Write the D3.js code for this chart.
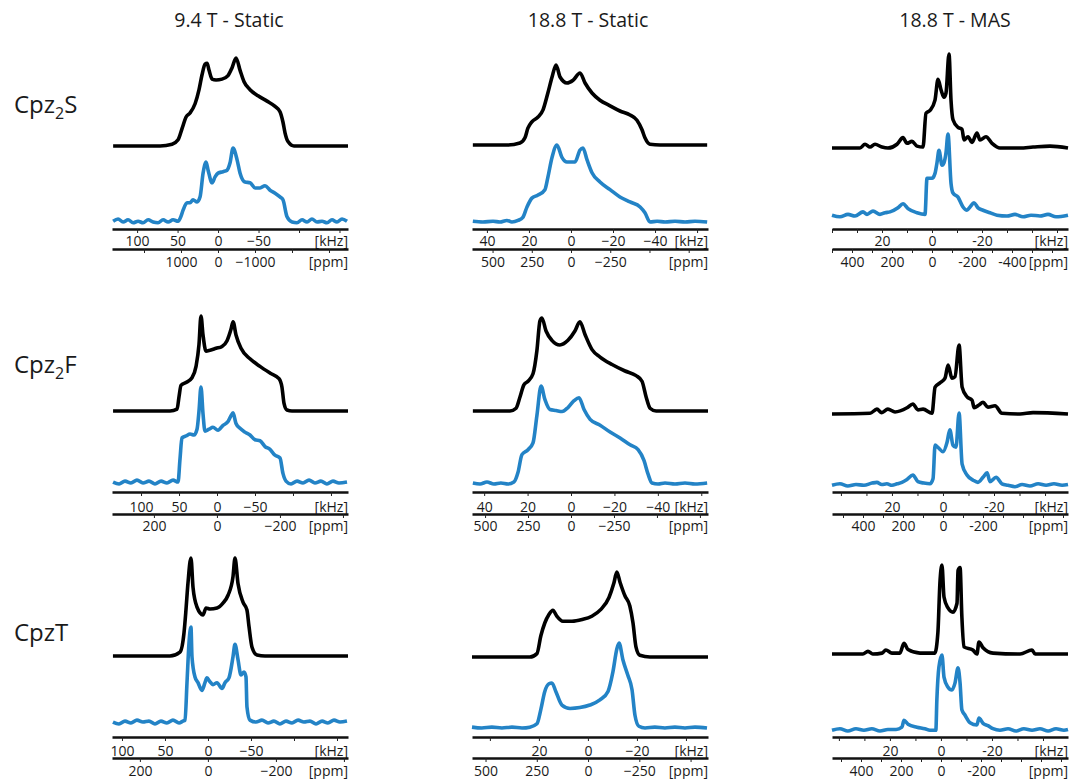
<!DOCTYPE html>
<html>
<head>
<meta charset="utf-8">
<script src="https://cdn.jsdelivr.net/npm/d3@7"></script>
<style>
  body { margin: 0; background: #fff; }
  text { font-family: "Open Sans", sans-serif; fill: #1a1a1a; }
</style>
</head>
<body>
<svg id="chart" width="1072" height="779"></svg>
<script>
const columnTitles = ["9.4 T - Static", "18.8 T - Static", "18.8 T - MAS"];
const compounds = [["Cpz", "2", "S"], ["Cpz", "2", "F"], ["Cpz", "", "T"]];

// spectra as [frequency in kHz, normalised intensity]; sim = black, exp = blue
const cpz2S_94_sim = [[129.6,0],[71.6,0],[56.8,0.02],[49.4,0.07],[44.4,0.2],[39.5,0.33],[34.6,0.375],[28.4,0.48],[23.5,0.64],[19.8,0.81],[16,0.93],[13.6,0.94],[11.1,0.86],[7.4,0.76],[2.5,0.75],[-4.9,0.76],[-12.3,0.8],[-17.3,0.89],[-22.2,1],[-27.2,0.86],[-32.1,0.73],[-39.5,0.64],[-49.4,0.57],[-60.5,0.51],[-70.4,0.45],[-76.5,0.39],[-80.2,0.27],[-82.7,0.15],[-86.4,0.05],[-93.8,0],[-160.5,0]];
const cpz2S_94_exp = [[129.6,0.01],[123.5,0.04],[117.3,0],[111.1,0.03],[104.9,-0.01],[98.8,0.01],[92.6,-0.01],[86.4,0.03],[80.2,0],[74.1,-0.01],[67.9,0.03],[61.7,0],[55.6,0.03],[49.4,0.01],[45.7,0.08],[43.2,0.16],[38.3,0.26],[34.6,0.26],[30.9,0.3],[25.9,0.27],[22.2,0.34],[18.5,0.66],[14.8,0.81],[12.3,0.7],[7.4,0.53],[3.7,0.61],[0,0.66],[-6.2,0.68],[-11.1,0.7],[-14.8,0.8],[-18.5,1],[-23.5,0.84],[-27.2,0.66],[-33.3,0.54],[-39.5,0.53],[-45.7,0.46],[-51.9,0.46],[-58,0.49],[-64.2,0.43],[-70.4,0.39],[-76.5,0.34],[-80.2,0.3],[-85.2,0.07],[-91.4,0],[-97.5,-0.01],[-103.7,0.03],[-109.9,0],[-116,0.04],[-122.2,0],[-128.4,0.01],[-134.6,-0.01],[-140.7,0.03],[-146.9,0],[-153.1,0.04],[-159.3,0.01]];
const cpz2S_188_sim = [[46.7,0],[30,0],[24.3,0.025],[21.9,0.09],[20.5,0.21],[18.6,0.29],[15.7,0.35],[13.3,0.44],[11,0.65],[9,0.85],[7.1,1],[5.2,0.85],[1.9,0.775],[-1,0.81],[-4.3,0.9],[-6.7,0.775],[-10,0.65],[-13.8,0.56],[-18.6,0.49],[-23.3,0.425],[-28.1,0.375],[-31.4,0.31],[-33.8,0.19],[-35.2,0.09],[-37.6,0.01],[-42.4,0],[-64.8,0]];
const cpz2S_188_exp = [[46.7,0.01],[41.9,0],[37.1,0.01],[33.8,0],[30.5,0.02],[28.1,0],[25.2,0.02],[22.9,0.06],[21,0.19],[18.6,0.31],[15.7,0.35],[12.4,0.42],[11,0.58],[9,0.84],[6.7,1],[4.3,0.84],[1.9,0.78],[-1.9,0.78],[-4.3,0.935],[-5.7,0.96],[-7.6,0.81],[-10,0.64],[-13.8,0.52],[-18.6,0.42],[-23.3,0.325],[-28.1,0.26],[-32.9,0.195],[-35.2,0.12],[-37.6,0],[-41,0.01],[-44.8,0],[-49.5,0.01],[-54.3,0],[-59,0.01],[-64.8,0]];
const cpz2S_mas_sim = [[40,0],[28.8,0],[26.8,0.04],[24.8,0.01],[22.8,0.04],[20,0.01],[17.6,0],[14,0.04],[11.6,0.11],[10,0.05],[8,0.07],[6,0.02],[3.6,0.01],[2.4,0.37],[0.8,0.4],[-1.2,0.51],[-2.4,0.73],[-3.6,0.62],[-4.8,0.54],[-5.6,0.585],[-6.8,1],[-7.6,0.51],[-8.4,0.3],[-10.4,0.22],[-12,0.2],[-12.8,0.085],[-14.4,0.12],[-16,0.06],[-18,0.16],[-19.2,0.085],[-21.6,0.12],[-24,0.05],[-27.2,0],[-35.2,0],[-40.4,0.01],[-47.2,0.02],[-54.4,0]];
const cpz2S_mas_exp = [[40,0.01],[36.8,-0.01],[33.6,0.02],[30.8,0],[27.6,0.05],[26,0.02],[23.6,0.06],[20.8,0.02],[18.8,0.04],[16.8,0.05],[13.6,0.1],[11.6,0.15],[9.6,0.09],[6,0.04],[2.8,0.02],[2,0.46],[0,0.46],[-1.2,0.52],[-2,0.65],[-2.8,0.8],[-4,0.62],[-4.8,0.65],[-5.6,0.77],[-6.4,1],[-7.6,0.4],[-8.4,0.28],[-10.4,0.23],[-12.4,0.11],[-14,0.07],[-15.2,0.11],[-16.8,0.16],[-18.4,0.1],[-20.4,0.07],[-23.2,0.04],[-26,0.01],[-30,0],[-33.2,0.02],[-36.4,-0.01],[-39.6,0.01],[-43.2,0],[-46.4,0.02],[-49.6,-0.01],[-54.4,0.01]];

const cpz2F_94_sim = [[136.8,0],[61.8,0],[52.6,0.02],[50,0.15],[47.4,0.27],[40.8,0.3],[32.9,0.35],[27.6,0.47],[23.7,0.7],[21.1,1],[18.4,0.8],[14.5,0.63],[9.2,0.64],[1.3,0.66],[-6.6,0.68],[-13.2,0.74],[-18.4,0.86],[-21.1,0.94],[-25,0.8],[-31.6,0.66],[-43.4,0.55],[-56.6,0.47],[-69.7,0.4],[-81.6,0.34],[-85.5,0.25],[-88.2,0.08],[-92.1,0.01],[-98.7,0],[-172.4,0]];
const cpz2F_94_exp = [[136.8,0.01],[128.9,-0.01],[121.1,0.02],[113.2,0],[105.3,0.03],[97.4,0],[89.5,0.02],[81.6,-0.01],[73.7,0.02],[65.8,0],[57.9,0.03],[51.3,0.01],[48.7,0.25],[46.1,0.47],[40.8,0.49],[35.5,0.51],[30.3,0.5],[26.3,0.56],[23.7,0.75],[21.1,1],[18.4,0.72],[15.8,0.54],[10.5,0.56],[5.3,0.58],[-1.3,0.55],[-7.9,0.6],[-14.5,0.64],[-18.4,0.7],[-21.1,0.73],[-25,0.62],[-30.3,0.57],[-36.8,0.53],[-43.4,0.5],[-50,0.45],[-56.6,0.44],[-63.2,0.38],[-69.7,0.35],[-76.3,0.29],[-82.9,0.26],[-86.8,0.1],[-90.8,0.02],[-97.4,-0.01],[-105.3,0.02],[-113.2,0],[-121.1,0.03],[-128.9,0],[-136.8,0.02],[-144.7,-0.01],[-152.6,0.02],[-160.5,0],[-171.1,0.01]];
const cpz2F_188_sim = [[45.2,0],[28.1,0],[25.3,0.03],[23.5,0.15],[21.7,0.28],[19.8,0.32],[17.5,0.4],[15.7,0.65],[14.3,0.97],[13.4,1],[11.5,0.86],[8.8,0.76],[5.1,0.71],[1.4,0.76],[-1.8,0.86],[-4.1,0.96],[-6.5,0.82],[-9.7,0.66],[-13.4,0.58],[-18.9,0.5],[-24.9,0.43],[-30,0.38],[-32.7,0.32],[-34.6,0.15],[-36.4,0.03],[-39.2,0],[-63.1,0]];
const cpz2F_188_exp = [[45.2,0.01],[41.9,0],[38.7,0.02],[35.5,0],[32.3,0.01],[29,0],[26.3,0.02],[24.4,0.12],[22.6,0.3],[19.8,0.35],[17.5,0.42],[15.7,0.7],[13.8,1],[12,0.86],[9.7,0.76],[6.9,0.75],[4.1,0.74],[1.4,0.78],[-1.4,0.85],[-3.7,0.88],[-6,0.76],[-8.8,0.66],[-13.4,0.6],[-18,0.53],[-22.6,0.47],[-27.2,0.4],[-30.9,0.35],[-33.6,0.24],[-35.5,0.1],[-37.3,0.01],[-40.1,0],[-43.3,0.01],[-47.9,0],[-52.5,0.01],[-57.1,0],[-62.7,0.01]];
const cpz2F_mas_sim = [[43.5,0],[28.6,0.01],[25.9,0.07],[24,0.02],[21.6,0.07],[18.8,0.03],[14.1,0.09],[11.8,0.145],[9.8,0.06],[7.8,0.07],[4.3,0.01],[3.1,0.39],[1.2,0.45],[-0.8,0.52],[-2,0.71],[-3.5,0.52],[-4.7,0.54],[-6.3,1],[-7.5,0.39],[-9.4,0.25],[-11.4,0.2],[-12.2,0.09],[-14.1,0.13],[-15.7,0.17],[-17.6,0.1],[-20.4,0.12],[-23.1,0.01],[-30.2,0],[-35.3,0.02],[-49,0]];
const cpz2F_mas_exp = [[43.5,0.01],[40.4,0.03],[37.3,0],[34.1,0.02],[31,0.01],[27.8,0.04],[25.9,0.05],[24,0.02],[22,0.03],[20,0.01],[18,0.03],[16.1,0.05],[14.1,0.09],[11.8,0.15],[9.8,0.06],[7.5,0.04],[5.1,0.03],[3.9,0.1],[3.1,0.56],[2,0.53],[0,0.47],[-1.6,0.6],[-2.7,0.77],[-3.9,0.56],[-5.1,0.53],[-6.3,1],[-7.5,0.3],[-9.4,0.15],[-11.8,0.08],[-13.7,0.05],[-15.7,0.12],[-17.3,0.18],[-18.4,0.06],[-20.8,0.12],[-23.1,0.03],[-25.5,0.01],[-28.2,-0.01],[-31,0.02],[-34.1,0],[-37.3,0.03],[-40.4,0.01],[-43.5,0.03],[-46.7,0.01],[-49,0.02]];

const cpzT_94_sim = [[110.5,0],[44.2,0],[32.6,0.04],[27.9,0.235],[25.6,0.47],[23.3,0.74],[19.8,1],[17.4,0.7],[12.8,0.5],[5.8,0.42],[2.3,0.49],[-2.3,0.48],[-10.5,0.49],[-17.4,0.54],[-23.3,0.62],[-29.1,0.81],[-31.4,1],[-34.9,0.74],[-40.7,0.55],[-45.3,0.47],[-47.7,0.3],[-51.2,0.09],[-57,0.01],[-66.3,0],[-162.8,0]];
const cpzT_94_exp = [[110.5,0.01],[103.5,-0.01],[96.5,0.02],[89.5,0],[82.6,0.03],[75.6,0.01],[68.6,0.02],[61.6,-0.01],[54.7,0.02],[47.7,0],[40.7,0.03],[33.7,0],[29.1,0.02],[26.7,0.03],[24.4,0.42],[22.1,0.83],[19.8,1],[18.6,0.69],[15.1,0.48],[11.6,0.42],[7,0.34],[3.5,0.42],[1.2,0.47],[-2.3,0.43],[-5.8,0.4],[-10.5,0.42],[-16.3,0.36],[-19.8,0.42],[-24.4,0.47],[-29.1,0.69],[-31.4,0.82],[-34.9,0.66],[-38.4,0.5],[-41.9,0.53],[-44.2,0.48],[-45.3,0.17],[-48.8,0.03],[-55.8,0.01],[-62.8,0.03],[-69.8,0],[-76.7,0.02],[-83.7,-0.01],[-90.7,0.02],[-97.7,0],[-104.7,0.03],[-111.6,0.01],[-118.6,0.02],[-125.6,-0.01],[-132.6,0.02],[-139.5,0],[-146.5,0.03],[-153.5,0.01],[-161.6,0.02]];
const cpzT_188_sim = [[47.3,0],[23.7,0],[20.8,0.04],[19.2,0.25],[17.6,0.4],[15.9,0.5],[14.3,0.55],[12.7,0.48],[10.2,0.42],[6.5,0.42],[2.4,0.44],[-1.6,0.48],[-5.3,0.56],[-8.6,0.7],[-10.6,0.87],[-11.8,1],[-13.1,0.88],[-15.1,0.72],[-17.1,0.6],[-18.4,0.4],[-19.6,0.12],[-21.2,0.02],[-25.3,0],[-49,0]];
const cpzT_188_exp = [[47.3,0.01],[43.3,0],[39.2,0.01],[35.1,0],[31,0.01],[26.9,0],[23.7,0.01],[20.8,0.05],[19.2,0.22],[17.6,0.43],[15.9,0.52],[14.7,0.53],[13.1,0.43],[10.6,0.27],[7.3,0.23],[3.3,0.24],[-0.8,0.27],[-4.9,0.33],[-8.2,0.43],[-10.2,0.66],[-11.8,0.93],[-12.7,1],[-14.3,0.8],[-16.3,0.62],[-18,0.45],[-19.2,0.15],[-20.8,0.02],[-23.3,0],[-27.3,0.01],[-31.4,0],[-35.5,0.01],[-39.6,0],[-43.7,0.01],[-48.6,0]];
const cpzT_mas_sim = [[42.7,0],[30.6,0],[28.6,0.03],[26.7,0],[23.1,0.01],[21.6,0.045],[19.2,0.01],[16.1,0.01],[14.5,0.12],[12.9,0.05],[8.2,0.01],[2.4,0.01],[1.2,0.24],[0.4,0.8],[-0.4,1],[-1.2,0.64],[-2.7,0.52],[-4.7,0.47],[-6.3,0.57],[-6.7,0.94],[-7.5,0.97],[-8.2,0.42],[-9,0.08],[-12.5,0.045],[-14.1,0],[-14.9,0.135],[-16.5,0.07],[-20.4,0.01],[-31,0],[-35.7,0.045],[-36.9,0],[-43.9,0],[-49.8,0]];
const cpzT_mas_exp = [[42.7,0.01],[39.6,0.03],[36.5,0],[33.3,0.03],[30.2,0.01],[27.1,0.03],[23.9,0],[20.8,0.02],[17.6,0.02],[15.3,0.05],[14.5,0.14],[12.9,0.09],[9.4,0.05],[6.3,0.03],[4.3,0.01],[2,0.01],[1.6,0.41],[0.8,0.84],[-0.4,1],[-1.2,0.71],[-2.7,0.58],[-4.3,0.54],[-5.5,0.63],[-6.7,0.83],[-7.5,0.63],[-8.2,0.28],[-9.4,0.21],[-11.4,0.11],[-14.1,0.08],[-14.9,0.17],[-16.5,0.1],[-18.4,0.07],[-20.4,0.03],[-23.1,0.01],[-26.3,0.03],[-29.4,0],[-32.5,0.03],[-35.7,0.01],[-38.8,0.03],[-42,0],[-45.1,0.03],[-48.2,0.01],[-49.8,0.02]];

// axis tick labels per panel (row by row)
const khzLabels = [
  [[100, 50, 0, -50], [40, 20, 0, -20, -40], [20, 0, -20]],
  [[100, 50, 0, -50], [40, 20, 0, -20, -40], [20, 0, -20]],
  [[100, 50, 0, -50], [20, 0, -20], [20, 0, -20]]
];
const ppmLabels = [
  [[1000, 0, -1000], [500, 250, 0, -250], [400, 200, 0, -200, -400]],
  [[200, 0, -200], [500, 250, 0, -250], [400, 200, 0, -200]],
  [[200, 0, -200], [500, 250, 0, -250], [400, 200, 0, -200]]
];
const khzStep = [[50, 20, 10], [50, 20, 10], [50, 20, 10]];
const ppmStep = [[1000, 250, 100], [200, 250, 100], [200, 250, 100]];

// axis ranges (left edge, right edge) for each panel
const khzDomain = [
  [[131, -160.5], [47.1, -65.2], [40, -54.4]],
  [[138.2, -172.4], [45.6, -63.1], [43.5, -49]],
  [[111.6, -162.8], [47.3, -49], [42.7, -49.8]]
];
const ppmDomain = [
  [[2865, -3514], [631, -873], [500, -680]],
  [[333, -416], [576, -797], [555, -625]],
  [[282, -412], [566, -585], [545, -635]]
];

const spectra = [
  [[cpz2S_94_sim, cpz2S_94_exp], [cpz2S_188_sim, cpz2S_188_exp], [cpz2S_mas_sim, cpz2S_mas_exp]],
  [[cpz2F_94_sim, cpz2F_94_exp], [cpz2F_188_sim, cpz2F_188_exp], [cpz2F_mas_sim, cpz2F_mas_exp]],
  [[cpzT_94_sim, cpzT_94_exp], [cpzT_188_sim, cpzT_188_exp], [cpzT_mas_sim, cpzT_mas_exp]]
];

// layout
const colX = [[112, 348], [472, 708], [832, 1068]];
const colTitleX = [229, 588, 955];
const rowLabelY = [113, 373, 641];
// [sim baseline, sim top, exp baseline, exp top]
const traceY = [
  [[146, 58, 222, 148], [145, 65, 222, 145], [148, 54, 216, 134]],
  [[411, 316, 483, 387], [411, 318, 484, 386], [414, 345, 486, 413]],
  [[656, 558, 723, 627], [657, 572, 728, 643], [654, 565, 731, 655]]
];
// [kHz line, ppm line, kHz label offset, ppm label offset]
const axisY = [[229, 249, 12, 13], [492, 514, 15, 12], [737, 758, 14, 13]];
const simColor = "#000";
const expColor = "#2383c6";
const labelSize = 14;

const svg = d3.select("#chart");

svg.selectAll("text.coltitle")
  .data(columnTitles)
  .enter().append("text")
  .attr("class", "coltitle")
  .attr("x", (d, i) => colTitleX[i])
  .attr("y", 27)
  .attr("text-anchor", "middle")
  .attr("font-size", "19.5px")
  .text(d => d);

compounds.forEach((c, r) => {
  const t = svg.append("text")
    .attr("x", 14)
    .attr("y", rowLabelY[r])
    .attr("font-size", "24px");
  t.append("tspan").text(c[0]);
  if (c[1]) t.append("tspan").attr("font-size", "16px").attr("dy", 6).text(c[1]);
  t.append("tspan").attr("dy", c[1] ? -6 : 0).text(c[2]);
});

const tickRange = (dom, step) => {
  const lo = Math.ceil(Math.min(...dom) / step) * step;
  const hi = Math.floor(Math.max(...dom) / step) * step;
  return d3.range(lo, hi + step / 2, step);
};

function drawAxis(g, scale, labels, step, y, offset, unit, hyphen) {
  const fmt = v => {
    if (!labels.includes(v)) return "";
    return v < 0 ? (hyphen ? "-" : "\u2212") + Math.abs(v) : String(v);
  };
  const pad = offset - 4 - 0.35 * labelSize;
  const ax = g.append("g")
    .attr("transform", `translate(0,${y})`)
    .call(d3.axisBottom(scale)
      .tickValues(tickRange(scale.domain(), step))
      .tickFormat(fmt)
      .tickSizeInner(4)
      .tickSizeOuter(0)
      .tickPadding(pad));
  ax.select(".domain").attr("stroke", "#111").attr("stroke-width", 2.6);
  ax.selectAll(".tick line").attr("stroke", "#222").attr("stroke-width", 1);
  ax.selectAll(".tick text")
    .attr("font-size", labelSize + "px")
    .attr("font-family", '"Open Sans", sans-serif')
    .attr("fill", "#1a1a1a");
  g.append("text")
    .attr("x", scale.range()[1])
    .attr("y", y + 4 + pad)
    .attr("dy", "0.71em")
    .attr("text-anchor", "end")
    .attr("font-size", labelSize + "px")
    .text(unit);
}

spectra.forEach((rowSpectra, r) => {
  rowSpectra.forEach(([sim, exp], c) => {
    const g = svg.append("g").attr("class", `panel r${r} c${c}`);
    const x = d3.scaleLinear().domain(khzDomain[r][c]).range(colX[c]);
    const xp = d3.scaleLinear().domain(ppmDomain[r][c]).range(colX[c]);
    const [sb, st, eb, et] = traceY[r][c];
    const ySim = d3.scaleLinear().domain([0, 1]).range([sb, st]);
    const yExp = d3.scaleLinear().domain([0, 1]).range([eb, et]);
    const curve = d3.curveMonotoneX;

    g.append("path")
      .datum(exp)
      .attr("fill", "none")
      .attr("stroke", expColor)
      .attr("stroke-width", 3.6)
      .attr("stroke-linejoin", "round")
      .attr("d", d3.line().x(d => x(d[0])).y(d => yExp(d[1])).curve(curve));

    g.append("path")
      .datum(sim)
      .attr("fill", "none")
      .attr("stroke", simColor)
      .attr("stroke-width", 3.6)
      .attr("stroke-linejoin", "round")
      .attr("d", d3.line().x(d => x(d[0])).y(d => ySim(d[1])).curve(curve));

    const [ky, py, ko, po] = axisY[r];
    drawAxis(g, x, khzLabels[r][c], khzStep[r][c], ky, ko, "[kHz]", c === 2);
    drawAxis(g, xp, ppmLabels[r][c], ppmStep[r][c], py, po, "[ppm]", c === 2);
  });
});
</script>
</body>
</html>
